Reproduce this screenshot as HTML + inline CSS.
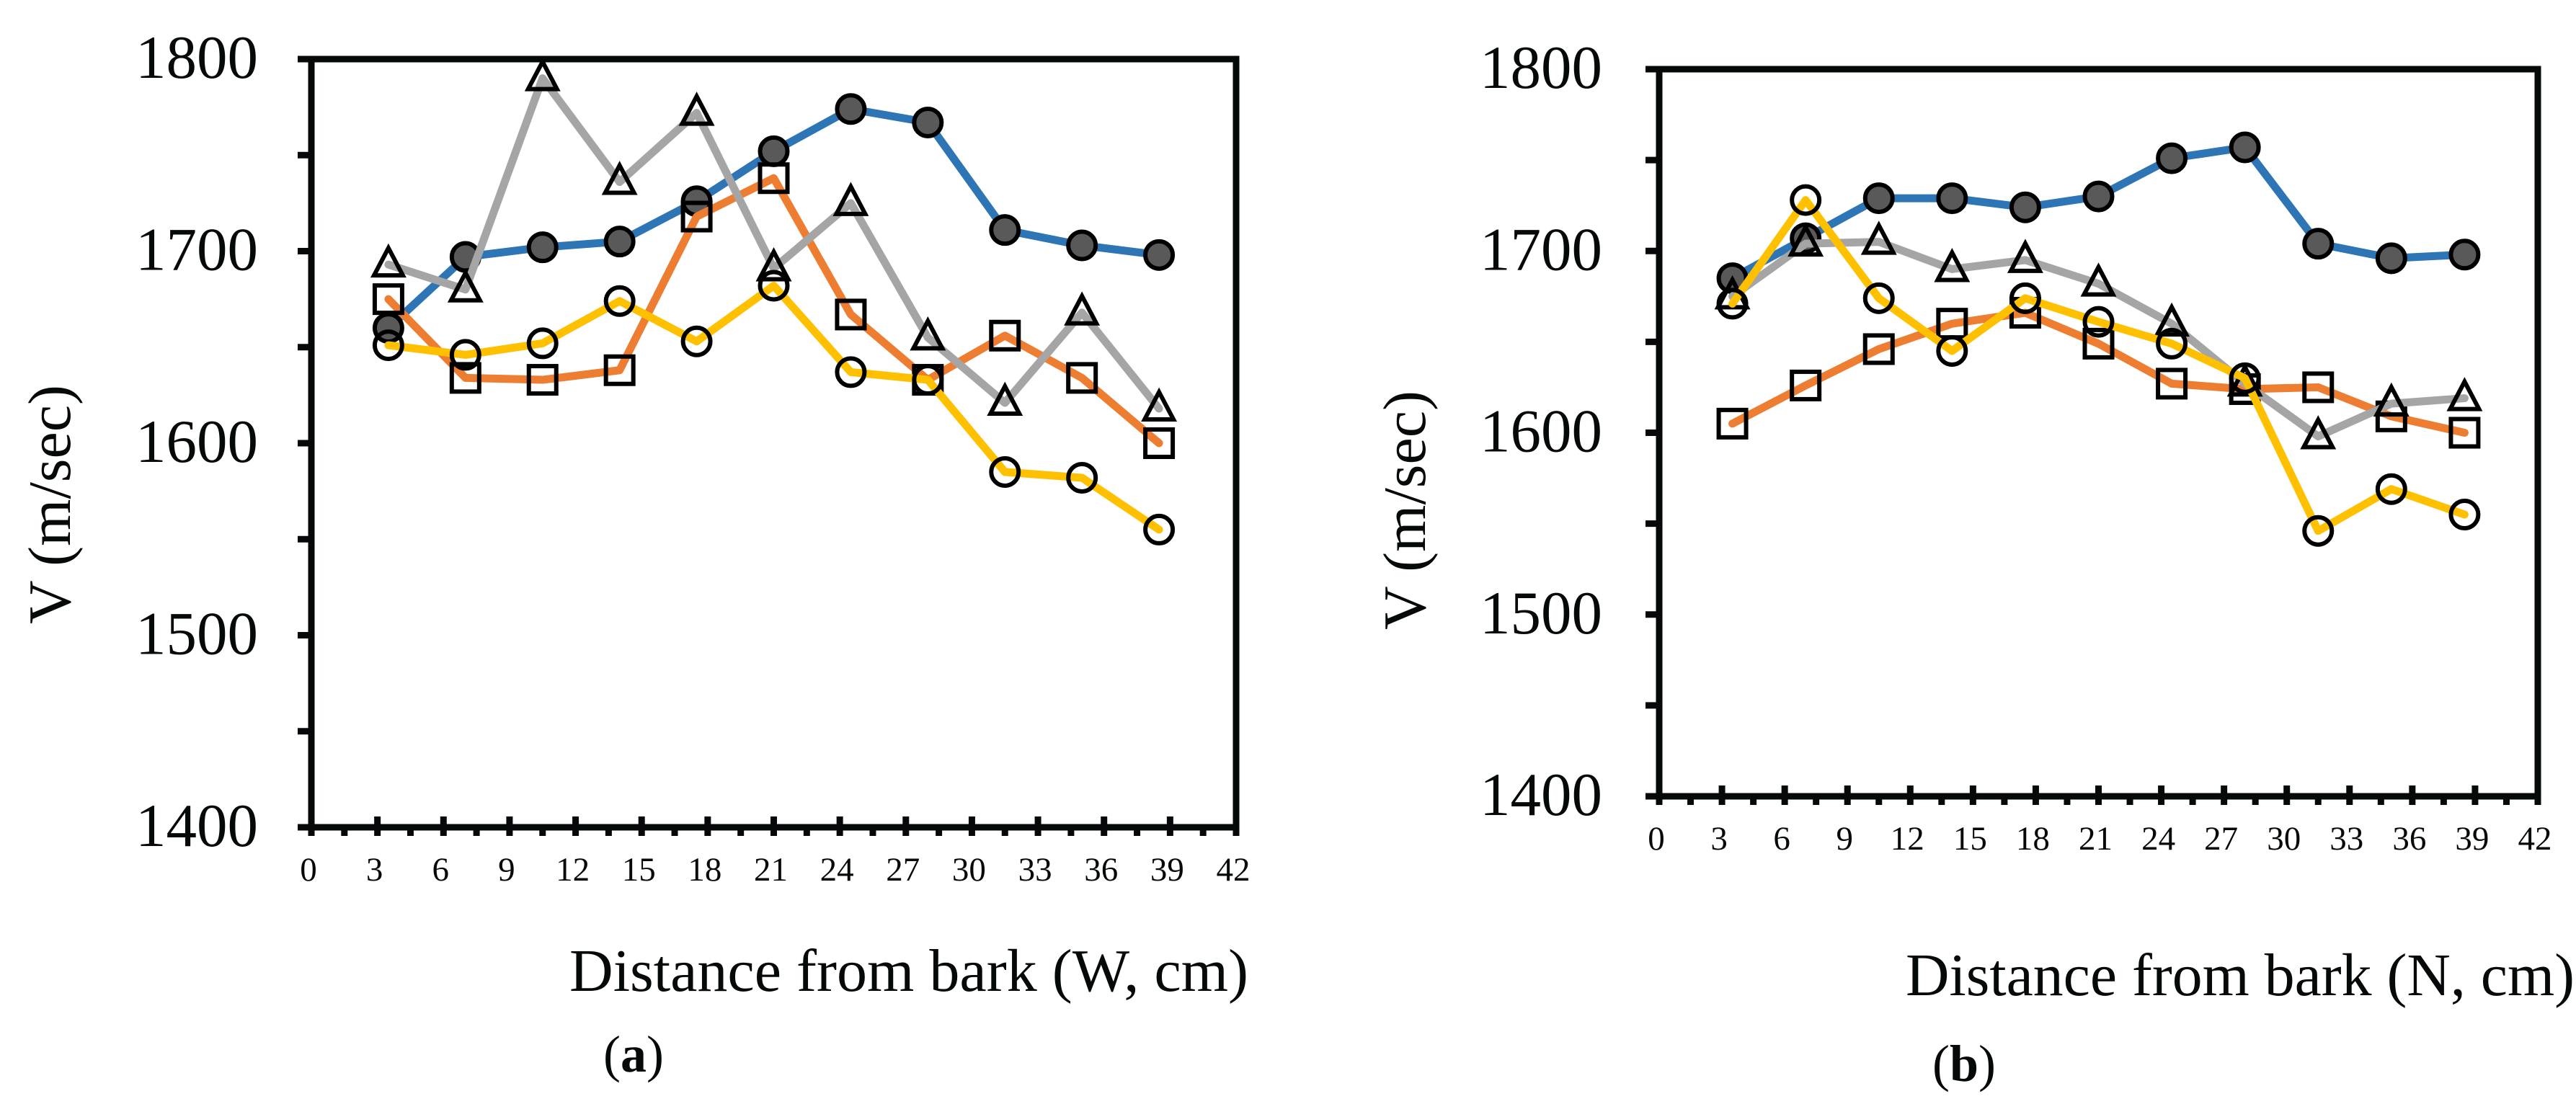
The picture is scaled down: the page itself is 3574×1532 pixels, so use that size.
<!DOCTYPE html>
<html><head><meta charset="utf-8">
<style>html,body{margin:0;padding:0;background:#fff}svg{display:block}svg text{font-family:"Liberation Serif","Times New Roman",serif}</style>
</head><body>
<svg id="fig" width="3574" height="1532" viewBox="0 0 3574 1532" xmlns="http://www.w3.org/2000/svg">
<rect width="3574" height="1532" fill="#fff"/>
</svg>
<script>
const xCats = [3.5, 7, 10.5, 14, 17.5, 21, 24.5, 28, 31.5, 35, 38.5];
const xTicks = [0,3,6,9,12,15,18,21,24,27,30,33,36,39,42];
const yTicks = [1400,1500,1600,1700,1800];
const aBlue   = [1660,1697,1702,1705,1726,1752,1774,1767,1711,1703,1698];
const aOrange = [1675,1634,1633,1638,1718,1738,1667,1633,1656,1634,1600];
const aGray   = [1693,1680,1790,1736,1772,1691,1725,1655,1621,1668,1618];
const aYellow = [1651,1646,1652,1674,1653,1682,1637,1633,1585,1582,1555];
const bBlue   = [1685,1707,1729,1729,1724,1730,1751,1757,1704,1696,1698];
const bOrange = [1605,1626,1646,1660,1666,1649,1627,1624,1625,1609,1600];
const bGray   = [1675,1704,1705,1690,1695,1682,1660,1627,1598,1616,1619];
const bYellow = [1671,1728,1674,1645,1674,1661,1649,1630,1546,1569,1555];

const NS='http://www.w3.org/2000/svg';
const svg=document.getElementById('fig');
function mk(tag,attrs,parent){const e=document.createElementNS(NS,tag);for(const k in attrs)e.setAttribute(k,attrs[k]);(parent||svg).appendChild(e);return e;}

function chart(cfg){
  const g=mk('g',{});
  
  
  const X=v=>cfg.x0+(v-0)/(42-0)*(cfg.x1-cfg.x0);
  const Y=v=>cfg.y1-(v-1400)/(1800-1400)*(cfg.y1-cfg.y0);
  cfg.series.forEach(s=>{
    const sg=mk('g',{},g);
    
    
    const pts=s.vals.map((v,i)=>X(xCats[i])+','+Y(v)).join(' ');
    const pl=mk('polyline',{points:pts,fill:'none',stroke:s.color,'stroke-width':11,'stroke-linejoin':'round','stroke-linecap':'round'},sg);
    
    
    s.vals.forEach((v,i)=>{
      const cx=X(xCats[i]),cy=Y(v);let m;
      if(s.marker==='dot'){m=mk('circle',{cx:cx,cy:cy,r:19,fill:'#595959',stroke:'#000','stroke-width':6},sg);}
      else if(s.marker==='circle'){m=mk('circle',{cx:cx,cy:cy,r:19,fill:'none',stroke:'#000','stroke-width':6},sg);}
      else if(s.marker==='square'){m=mk('rect',{x:cx-19,y:cy-19,width:38,height:38,fill:'none',stroke:'#000','stroke-width':6},sg);}
      else {m=mk('polygon',{points:(cx)+','+(cy-23)+' '+(cx-20)+','+(cy+15)+' '+(cx+20)+','+(cy+15),fill:'none',stroke:'#000','stroke-width':6,'stroke-linejoin':'miter'},sg);}
      
      
    });
  });
  const fr=mk('rect',{x:cfg.x0,y:cfg.y0,width:cfg.x1-cfg.x0,height:cfg.y1-cfg.y0,fill:'none',stroke:'#05090a','stroke-width':9},g);
  
  
  for(let v=1400;v<=1800;v+=50){
    const t=mk('line',{x1:cfg.x0-19,x2:cfg.x0,y1:Y(v),y2:Y(v),stroke:'#05090a','stroke-width':9},g);
    
    
  }
  yTicks.forEach(v=>{
    const t=mk('text',{x:cfg.ylabRight,y:Y(v)+26,'font-size':85,'text-anchor':'end',fill:'#05090a'},g);
    t.textContent=v;
    
    
  });
  for(let v=0;v<=42;v+=1.5){
    const major=(v%3===0)&&v>0&&v<42;
    const t=mk('line',{x1:X(v),x2:X(v),y1:major?cfg.y1-15:cfg.y1,y2:cfg.y1+12,stroke:'#05090a','stroke-width':9},g);
    
    
  }
  xTicks.forEach(v=>{
    const t=mk('text',{x:X(v)-4,y:cfg.y1+74,'font-size':47,'text-anchor':'middle',fill:'#05090a'},g);
    t.textContent=v;
    
    
  });
  const xt=mk('text',{x:cfg.xtX,y:cfg.xtY,'font-size':84,fill:'#05090a',textLength:cfg.xtW,lengthAdjust:'spacingAndGlyphs'},g);
  xt.textContent=cfg.xtitle;
  
  
  const yt=mk('text',{x:0,y:0,'font-size':84,fill:'#05090a','text-anchor':'middle',transform:'translate('+cfg.ytX+','+cfg.ytY+') rotate(-90)'},g);
  yt.textContent='V (m/sec)';
  
  
  const pt=mk('text',{x:cfg.pX,y:cfg.pY,'font-size':72,fill:'#05090a'},g);
  pt.appendChild(document.createTextNode('('));
  const b=mk('tspan',{'font-weight':'bold'},pt);b.textContent=cfg.panel;
  pt.appendChild(document.createTextNode(')'));
  
  
}

chart({name:'chart-a-west',x0:432,x1:1715,y0:82,y1:1148,ylabRight:358,
  xtitle:'Distance from bark (W, cm)',xtX:790,xtY:1375,xtW:942,ytX:97,ytY:700,pX:837,pY:1487,panel:'a',
  series:[{name:'series-blue',color:'#2E75B6',marker:'dot',vals:aBlue},
          {name:'series-orange',color:'#ED7D31',marker:'square',vals:aOrange},
          {name:'series-gray',color:'#A5A5A5',marker:'triangle',vals:aGray},
          {name:'series-yellow',color:'#FFC000',marker:'circle',vals:aYellow}]});
chart({name:'chart-b-north',x0:2302,x1:3521,y0:96,y1:1105,ylabRight:2223,
  xtitle:'Distance from bark (N, cm)',xtX:2644,xtY:1381,xtW:928,ytX:1977,ytY:708,pX:2681,pY:1500,panel:'b',
  series:[{name:'series-blue',color:'#2E75B6',marker:'dot',vals:bBlue},
          {name:'series-orange',color:'#ED7D31',marker:'square',vals:bOrange},
          {name:'series-gray',color:'#A5A5A5',marker:'triangle',vals:bGray},
          {name:'series-yellow',color:'#FFC000',marker:'circle',vals:bYellow}]});
</script>
</body></html>
